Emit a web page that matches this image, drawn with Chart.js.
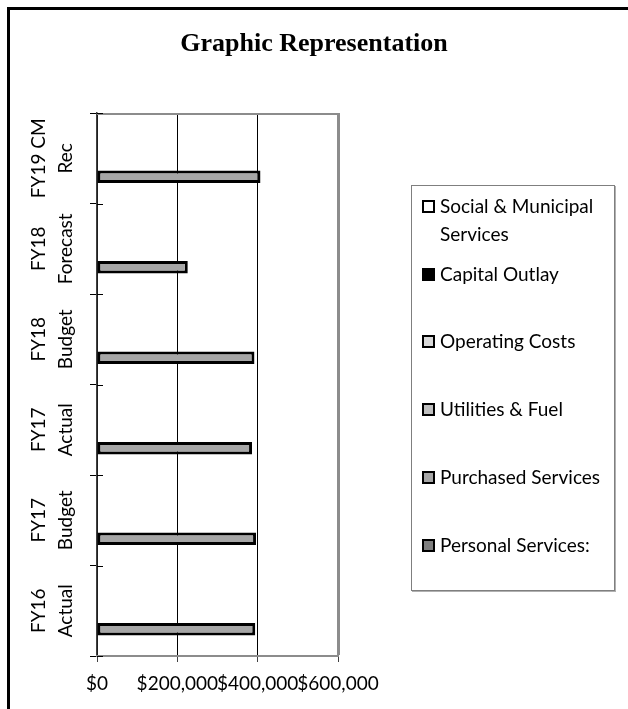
<!DOCTYPE html>
<html>
<head>
<meta charset="utf-8">
<script src="https://cdn.jsdelivr.net/npm/chart.js@4.4.1/dist/chart.umd.min.js"></script>
<style>
html,body{margin:0;padding:0;background:#fff;overflow:hidden;}
#wrap{position:relative;width:628px;height:709px;overflow:hidden;background:#fff;}
#c{position:absolute;left:0;top:0;}
#title{position:absolute;left:0;width:628px;top:28px;text-align:center;font-family:"Liberation Serif";font-weight:bold;font-size:26px;line-height:30px;color:#000;}
#legend{position:absolute;left:411px;top:185px;width:204px;height:406px;border:1px solid #7f7f7f;box-shadow:1px 1px 0 #b0b0b0;box-sizing:border-box;font-family:Lato;font-size:19px;color:#000;background:#fff;}
.item{position:absolute;left:0;width:200px;}
.mk{position:absolute;left:10px;top:8px;width:13px;height:13px;border:2.5px solid #000;box-sizing:border-box;}
.tx{position:absolute;left:28px;top:0;width:172px;line-height:28px;}
</style>
</head>
<body>
<div id="wrap">
  <canvas id="c" width="628" height="709"></canvas>
  <div id="title">Graphic Representation</div>
  <div id="legend"></div>
</div>
<script>
// ---- data ----
const categories = ['FY16 Actual','FY17 Budget','FY17 Actual','FY18 Budget','FY18 Forecast','FY19 CM Rec'];
const tickLines = [['FY16','Actual'],['FY17','Budget'],['FY17','Actual'],['FY18','Budget'],['FY18','Forecast'],['FY19 CM','Rec']];
const seriesNames = ['Social & Municipal Services','Capital Outlay','Operating Costs','Utilities & Fuel','Purchased Services','Personal Services:'];
const socialMunicipal   = [0, 0, 0, 0, 0, 0];
const capitalOutlay     = [0, 0, 0, 0, 0, 0];
const operatingCosts    = [0, 0, 0, 0, 0, 0];
const utilitiesFuel     = [0, 0, 0, 0, 0, 0];
const purchasedServices = [394000, 396000, 386000, 392000, 226000, 407000];
const personalServices  = [0, 0, 0, 0, 0, 0];
const xTickValues = [0, 200000, 400000, 600000];

// ---- styles ----
const fills = ['#ffffff','#000000','#d9d9d9','#bfbfbf','#a6a6a6','#7f7f7f'];
const seriesData = [socialMunicipal, capitalOutlay, operatingCosts, utilitiesFuel, purchasedServices, personalServices];

const datasets = seriesNames.map((name, i) => ({
  label: name,
  data: seriesData[i],
  backgroundColor: fills[i],
  borderColor: '#000',
  borderWidth: 3,
  borderSkipped: false,
  inflateAmount: 0,
  categoryPercentage: 0.82,
  barPercentage: 1.0
}));

const framePlugin = {
  id: 'frame',
  beforeDraw(chart) {
    const ctx = chart.ctx;
    ctx.save();
    ctx.fillStyle = '#000';
    ctx.fillRect(7, 7, 3, chart.height - 7);
    ctx.fillRect(7, 7, chart.width - 7, 3);
    ctx.restore();
  }
};

const extrasPlugin = {
  id: 'extras',
  afterDraw(chart) {
    const ctx = chart.ctx;
    const ys = chart.scales.y;
    const ca = chart.chartArea;
    ctx.save();
    // plot area top border
    ctx.strokeStyle = '#8c8c8c';
    ctx.lineWidth = 2;
    ctx.beginPath();
    ctx.moveTo(ca.left, ca.top + 1);
    ctx.lineTo(ca.right, ca.top + 1);
    ctx.stroke();
    // inner half of cross tick marks on category axis
    ctx.strokeStyle = '#000';
    ctx.lineWidth = 1;
    for (let i = 0; i <= categories.length; i++) {
      const py = Math.round(ys.getPixelForValue(i - 0.5)) + 0.5;
      ctx.beginPath();
      ctx.moveTo(ca.left, py);
      ctx.lineTo(ca.left + 6, py);
      ctx.stroke();
    }
    // rotated two-line category labels
    ctx.font = '19px Lato';
    ctx.fillStyle = '#000';
    ctx.textAlign = 'center';
    ctx.textBaseline = 'alphabetic';
    tickLines.forEach((lines, i) => {
      const py = ys.getPixelForValue(i);
      lines.forEach((t, j) => {
        ctx.save();
        ctx.translate(ys.right - 52 + j * 26.7, py);
        ctx.rotate(-Math.PI / 2);
        ctx.fillText(t, 0, 0);
        ctx.restore();
      });
    });
    ctx.restore();
  }
};

const chart = new Chart(document.getElementById('c'), {
  type: 'bar',
  data: { labels: categories, datasets },
  options: {
    indexAxis: 'y',
    responsive: false,
    animation: false,
    devicePixelRatio: 1,
    layout: { padding: { left: 37, top: 113, right: 290, bottom: 13 } },
    plugins: { legend: { display: false }, tooltip: { enabled: false }, title: { display: false } },
    scales: {
      y: {
        type: 'category',
        reverse: true,
        offset: true,
        grid: { offset: true, drawOnChartArea: false, drawTicks: true, tickLength: 7, color: '#000', lineWidth: 1 },
        border: { display: true, color: '#404040', width: 1.5 },
        ticks: { display: false },
        afterFit(s) { s.width = 60; }
      },
      x: {
        type: 'linear',
        min: 0,
        max: 600000,
        afterBuildTicks(s) { s.ticks = xTickValues.map(v => ({ value: v })); },
        grid: {
          color: c => (c.tick && c.tick.value === 600000) ? '#8c8c8c' : '#000',
          lineWidth: c => (c.tick && c.tick.value === 600000) ? 3 : 1,
          tickLength: 6,
          tickColor: '#404040',
          tickWidth: 1
        },
        border: { display: true, color: '#8c8c8c', width: 2 },
        ticks: {
          autoSkip: false, maxRotation: 0, minRotation: 0, padding: 10,
          color: '#000',
          font: { family: 'Lato', size: 19 },
          callback: v => '$' + Number(v).toLocaleString('en-US')
        },
        afterFit(s) { s.height = 40; }
      }
    }
  },
  plugins: [framePlugin, extrasPlugin]
});

// HTML legend built from the chart's datasets
const legend = document.getElementById('legend');
chart.data.datasets.forEach((ds, i) => {
  const item = document.createElement('div');
  item.className = 'item';
  item.style.top = (6 + i * 67.7) + 'px';
  const mk = document.createElement('div');
  mk.className = 'mk';
  mk.style.background = ds.backgroundColor;
  const tx = document.createElement('div');
  tx.className = 'tx';
  tx.textContent = ds.label;
  item.appendChild(mk);
  item.appendChild(tx);
  legend.appendChild(item);
});
</script>
</body>
</html>
